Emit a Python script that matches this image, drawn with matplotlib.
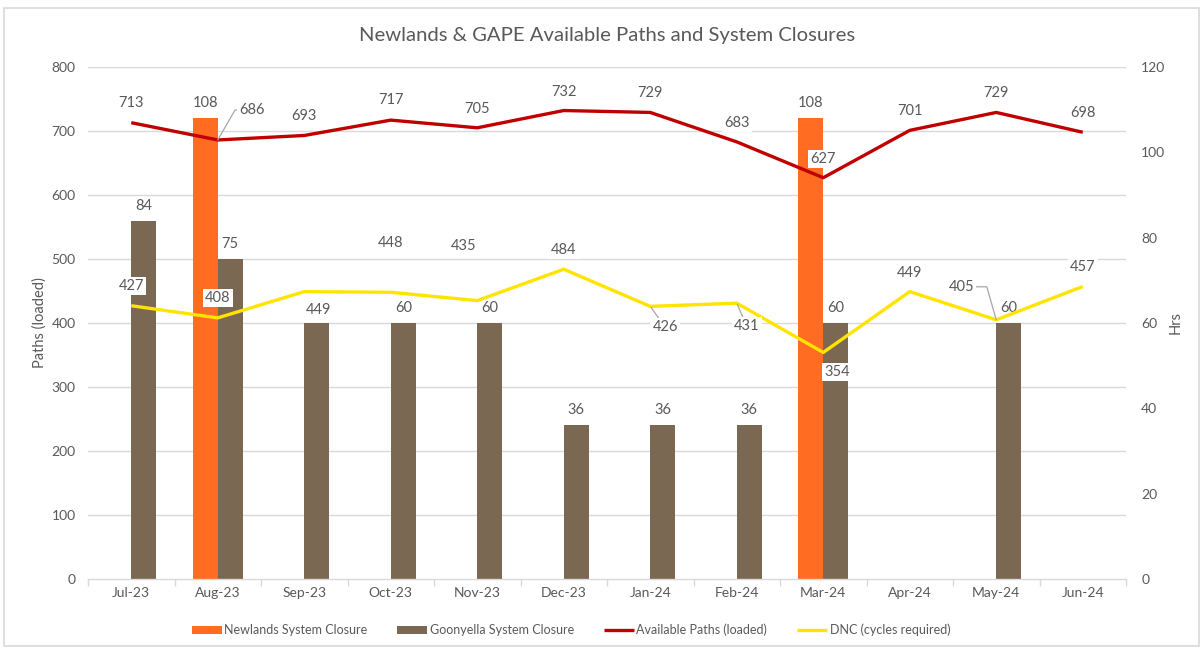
import matplotlib
matplotlib.use("Agg")
import matplotlib.pyplot as plt
from matplotlib.patches import Rectangle
import numpy as np

months = ["Jul-23", "Aug-23", "Sep-23", "Oct-23", "Nov-23", "Dec-23",
          "Jan-24", "Feb-24", "Mar-24", "Apr-24", "May-24", "Jun-24"]
newlands = [0, 108, 0, 0, 0, 0, 0, 0, 108, 0, 0, 0]
goonyella = [84, 75, 60, 60, 60, 36, 36, 36, 60, 0, 60, 0]
paths = [713, 686, 693, 717, 705, 732, 729, 683, 627, 701, 729, 698]
dnc = [427, 408, 449, 448, 435, 484, 426, 431, 354, 449, 405, 457]
left_ticks = [0, 100, 200, 300, 400, 500, 600, 700, 800]
right_ticks = [0, 20, 40, 60, 80, 100, 120]

# goonyella label at Sep-23 is hidden behind the DNC label in the reference
goonyella_label_shown = [True, True, False, True, True, True, True, True, True, True, True, True]

# label offsets (pixels) for line data labels
paths_off = [(0, 20), (34, 30), (0, 19), (0, 20), (0, 19), (0, 19),
             (0, 19), (0, 19), (0, 19), (0, 19), (0, 19), (0, 19)]
paths_leader = [None, 60] + [None] * 10
dnc_off = [(0, 20), (0, 20), (14, -18), (0, 49), (-14, 55), (0, 19),
           (15, -21), (10, -23), (14, -20), (0, 19), (-35, 33), (0, 20)]
dnc_leader = [None] * 6 + ["straight", "straight", None, None, 106, None]

TXT = "#595959"
ORANGE = "#FF6C22"
BROWN = "#7A6853"
RED = "#C00000"
YELLOW = "#FFE400"
GRID = "#D9D9D9"

plt.rcParams['font.family'] = ['Lato', 'DejaVu Sans']

fig = plt.figure(figsize=(12.03, 6.5), dpi=100)
fig.patches.append(Rectangle((4 / 1203, 4 / 650), 1195 / 1203, 638 / 650,
                             transform=fig.transFigure, fill=False,
                             ec="#D9D9D9", lw=1.2))

ax2 = fig.add_axes([88 / 1203, 1 - 579 / 650, (1126 - 88) / 1203, (579 - 67) / 650])
ax = ax2.twinx()
ax.set_zorder(ax2.get_zorder() + 1)
ax.patch.set_visible(False)

x = np.arange(len(months))
w = 0.29

# gridlines behind bars (aligned with left axis ticks)
for v in left_ticks[1:]:
    ax2.axhline(v * 120 / 800, color=GRID, lw=1, zorder=0)

nb = ax2.bar(x - w / 2, newlands, w, color=ORANGE, zorder=2, label="Newlands System Closure")
gb = ax2.bar(x + w / 2, goonyella, w, color=BROWN, zorder=2, label="Goonyella System Closure")

for i, v in enumerate(newlands):
    if v:
        ax2.annotate(str(v), (x[i] - w / 2, v), xytext=(0, 15), textcoords="offset pixels",
                     ha="center", va="center", fontsize=10.5, color=TXT)
for i, v in enumerate(goonyella):
    if v and goonyella_label_shown[i]:
        ax2.annotate(str(v), (x[i] + w / 2, v), xytext=(0, 15), textcoords="offset pixels",
                     ha="center", va="center", fontsize=10.5, color=TXT)

lp, = ax.plot(x, paths, color=RED, lw=2.4, zorder=3, label="Available Paths (loaded)",
              solid_capstyle="butt")
ld, = ax.plot(x, dnc, color=YELLOW, lw=2.4, zorder=3, label="DNC (cycles required)",
              solid_capstyle="butt")

box = dict(fc="white", ec="none", pad=1.5)


def line_labels(vals, offs, leaders):
    for i, v in enumerate(vals):
        dx, dy = offs[i]
        kw = {}
        ld_ = leaders[i]
        if ld_ == "straight":
            kw["arrowprops"] = dict(arrowstyle="-", color="#A6A6A6", lw=0.9,
                                    shrinkA=0, shrinkB=1)
        elif ld_ is not None:
            kw["arrowprops"] = dict(arrowstyle="-", color="#A6A6A6", lw=0.9,
                                    shrinkA=0, shrinkB=0,
                                    connectionstyle=f"angle,angleA=0,angleB={ld_},rad=0")
        ax.annotate(str(v), (x[i], v), xytext=(dx, dy), textcoords="offset pixels",
                    ha="center", va="center", fontsize=10.5, color=TXT,
                    bbox=box, zorder=5, **kw)


line_labels(paths, paths_off, paths_leader)
line_labels(dnc, dnc_off, dnc_leader)

ax.set_ylim(0, 800)
ax2.set_ylim(0, 120)
ax.set_xlim(-0.5, len(months) - 0.5)

ax.yaxis.tick_left()
ax2.yaxis.tick_right()
ax.set_yticks(left_ticks)
ax2.set_yticks(right_ticks)
ax.tick_params(axis="y", length=0, pad=9, labelsize=10, labelcolor=TXT)
ax2.tick_params(axis="y", length=0, pad=11, labelsize=10, labelcolor=TXT)

ax2.set_xticks(x)
ax2.set_xticklabels(months)
ax2.set_xticks(np.arange(-0.5, len(months), 1), minor=True)
ax2.tick_params(axis="x", which="major", length=0, pad=6, labelsize=10, labelcolor=TXT)
ax2.tick_params(axis="x", which="minor", length=5, color=GRID, width=1)
ax.tick_params(axis="x", which="both", length=0, labelbottom=False)

for a in (ax, ax2):
    for s in a.spines.values():
        s.set_visible(False)
ax2.spines["bottom"].set_visible(True)
ax2.spines["bottom"].set_color(GRID)
ax2.spines["bottom"].set_linewidth(1)

fig.text(40 / 1203, 1 - 323 / 650, "Paths (loaded)", rotation=90, ha="center", va="center",
         fontsize=10.5, color=TXT)
fig.text(1176 / 1203, 1 - 323 / 650, "Hrs", rotation=90, ha="center", va="center",
         fontsize=10.5, color=TXT)

fig.text(607 / 1203, 1 - 35 / 650, "Newlands & GAPE Available Paths and System Closures",
         ha="center", va="center", fontsize=14.6, color=TXT)

fig.legend(handles=[nb, gb, lp, ld], loc="center", bbox_to_anchor=(571 / 1203, 1 - 630 / 650),
           ncol=4, frameon=False, fontsize=9, labelcolor=TXT, handlelength=2.4,
           handleheight=0.6, handletextpad=0.2, columnspacing=2.4)

fig.savefig("out.png", dpi=100)
